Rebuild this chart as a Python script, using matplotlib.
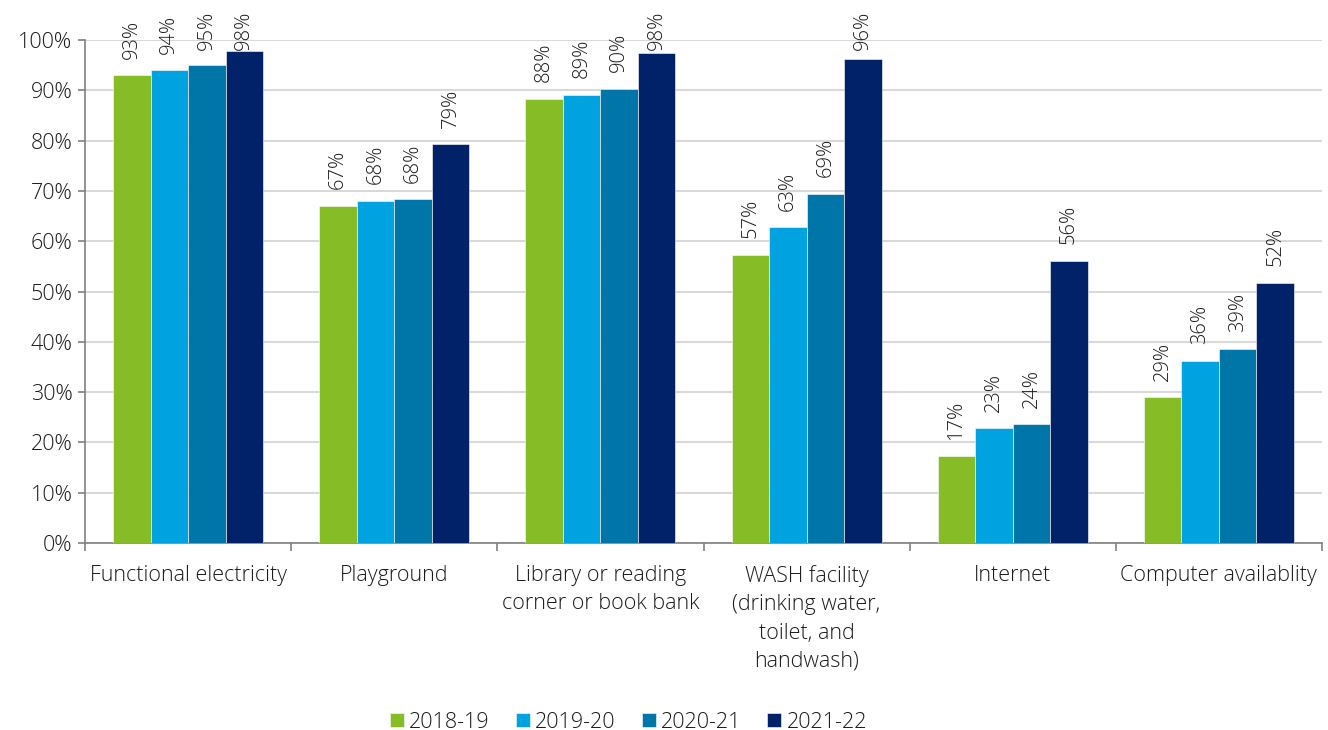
import matplotlib
matplotlib.use("Agg")
import matplotlib.pyplot as plt
import numpy as np
from matplotlib.ticker import FuncFormatter, MultipleLocator

plt.rcParams['font.family'] = ['Open Sans', 'DejaVu Sans']

categories = ["Functional electricity", "Playground", "Library or reading\ncorner or book bank",
              "WASH facility\n(drinking water,\ntoilet, and\nhandwash)", "Internet", "Computer availablity"]
series_names = ["2018-19", "2019-20", "2020-21", "2021-22"]
v2018 = [93.0, 67.0, 88.3, 57.3, 17.2, 29.0]
v2019 = [94.0, 68.0, 89.1, 62.8, 22.8, 36.2]
v2020 = [95.0, 68.3, 90.3, 69.4, 23.6, 38.6]
v2021 = [97.8, 79.3, 97.5, 96.2, 56.1, 51.7]
colors = ["#86BC25", "#00A3E0", "#0076A8", "#012169"]

data = [v2018, v2019, v2020, v2021]
txt = '#1a1a1a'

fig = plt.figure(figsize=(13.28, 7.30), dpi=100)
ax = fig.add_axes([85/1328, 1 - 543/730, (1322-85)/1328, (543-40)/730])

x = np.arange(len(categories))
w = 0.182
gap = 3.3      # label gap above bar (data units)
max_base = 98.0  # labels kept inside the figure, like Excel does
for i, (vals, c, name) in enumerate(zip(data, colors, series_names)):
    pos = x + (i - 1.5) * w
    ax.bar(pos, vals, width=w, color=c, label=name, edgecolor='white', linewidth=0.4, zorder=3)
    for p, v in zip(pos, vals):
        ax.text(p, min(v + gap, max_base), f"{round(v):.0f}%", rotation=90,
                ha='center', va='bottom', fontsize=14.5, color=txt,
                fontweight='light', zorder=4, clip_on=False)

ax.set_xlim(-0.5, len(categories) - 0.5)
ax.set_ylim(0, 100)
ax.yaxis.set_major_locator(MultipleLocator(10))
ax.yaxis.set_major_formatter(FuncFormatter(lambda v, _: f"{v:.0f}%"))
ax.grid(axis='y', color='#d9d9d9', linewidth=1.5, zorder=0)
ax.set_axisbelow(True)

for s in ['top', 'right']:
    ax.spines[s].set_visible(False)
for s in ['left', 'bottom']:
    ax.spines[s].set_color('#808080')
    ax.spines[s].set_linewidth(1.2)

ax.set_xticks(x)
ax.set_xticklabels(categories, fontsize=15.5, color=txt, fontweight='light', linespacing=1.45)
ax.tick_params(axis='x', length=0, pad=16)
ax.set_xticks(np.arange(-0.5, len(categories) + 0.5, 1), minor=True)
ax.tick_params(axis='x', which='minor', length=6, color='#808080', width=1.2)
ax.tick_params(axis='y', labelsize=15.5, labelcolor=txt, length=5, color='#808080', width=1.2, pad=4)
for t in ax.get_yticklabels():
    t.set_fontweight('light')

leg = fig.legend(loc='center', bbox_to_anchor=(0.4733, 8/730), ncol=4, frameon=False,
                 fontsize=15.5, handlelength=0.65, handleheight=0.65, handletextpad=0.25,
                 columnspacing=1.2, borderpad=0)
for t in leg.get_texts():
    t.set_fontweight('light')
    t.set_color(txt)

fig.savefig("out.png", dpi=100)
